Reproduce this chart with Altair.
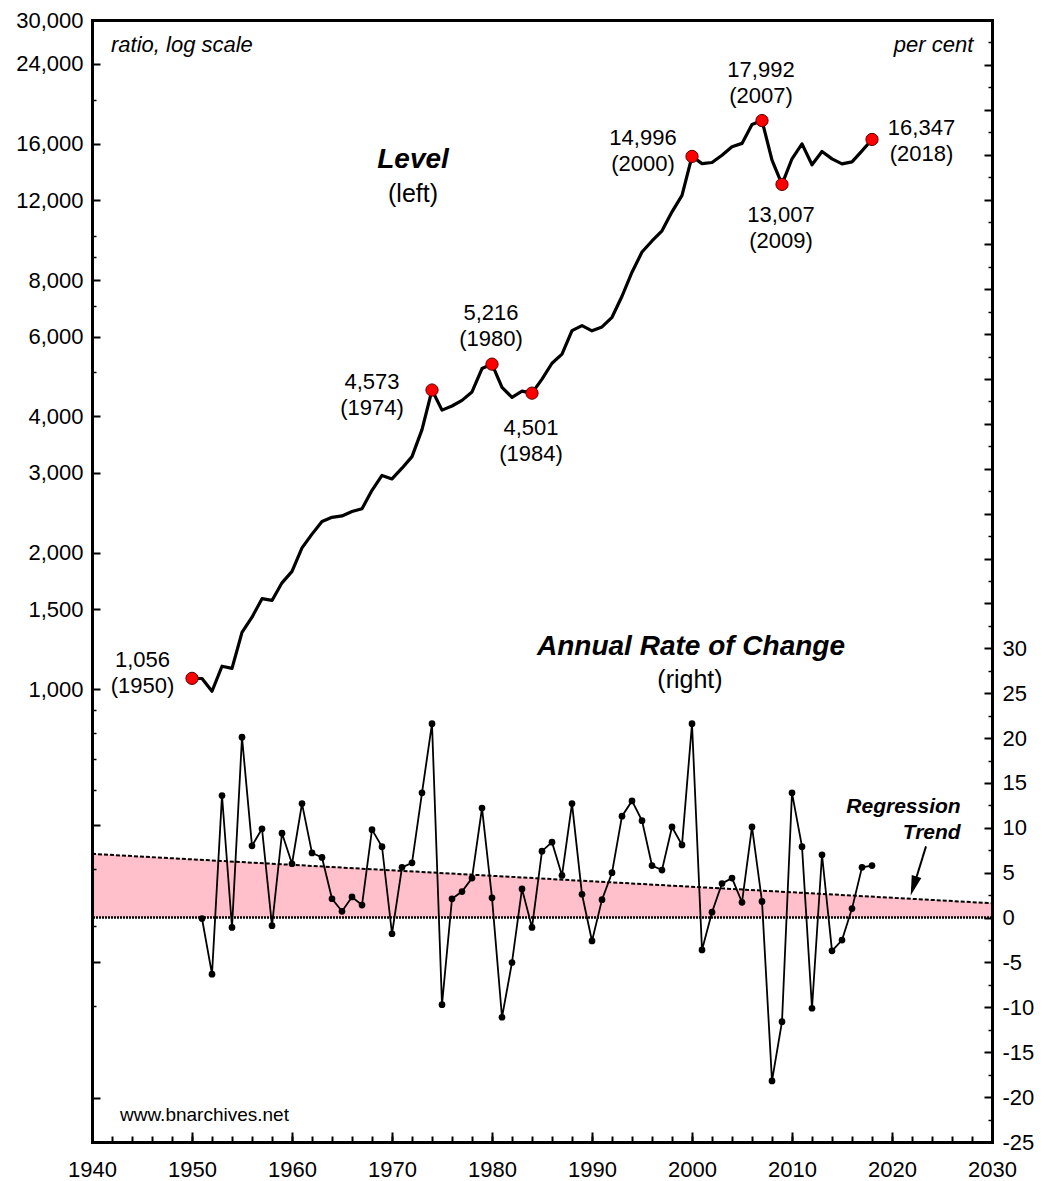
import altair as alt
import pandas as pd

FONT = "Liberation Sans"

# ---------------- data ----------------
years = list(range(1950, 2019))
level = [1056, 1055, 989, 1123, 1111, 1334, 1441, 1583, 1569, 1716,
         1819, 2050, 2198, 2345, 2394, 2411, 2466, 2501, 2746, 2963,
         2910, 3073, 3260, 3740, 4573, 4129, 4216, 4338, 4529, 5100,
         5216, 4637, 4405, 4546, 4501, 4834, 5240, 5487, 6183, 6344,
         6179, 6303, 6618, 7366, 8323, 9222, 9757, 10274, 11312, 12300,
         14996, 14456, 14537, 15090, 15754, 16022, 17640, 17992, 14717, 13007,
         14815, 15985, 14370, 15376, 14807, 14437, 14581, 15420, 16347]

rate_years = list(range(1951, 2019))
rate = [-0.1, -6.3, 13.6, -1.1, 20.1, 8.0, 9.9, -0.9, 9.4,
        6.0, 12.7, 7.2, 6.7, 2.1, 0.7, 2.3, 1.4, 9.8, 7.9,
        -1.8, 5.6, 6.1, 13.9, 21.6, -9.7, 2.1, 2.9, 4.4, 12.2,
        2.2, -11.1, -5.0, 3.2, -1.1, 7.4, 8.4, 4.7, 12.7, 2.6,
        -2.6, 2.0, 5.0, 11.3, 13.0, 10.8, 5.8, 5.3, 10.1, 8.1,
        21.6, -3.6, 0.6, 3.8, 4.4, 1.7, 10.1, 1.8, -18.2, -11.6,
        13.9, 7.9, -10.1, 7.0, -3.7, -2.5, 1.0, 5.6, 5.8]

trend_years = [1940, 2030]
trend_vals = [7.1, 1.6]
trend_base = [0, 0]

hl_years = [1950, 1974, 1980, 1984, 2000, 2007, 2009, 2018]
hl_values = [1056, 4573, 5216, 4501, 14996, 17992, 13007, 16347]
hl_label_x = [1945.05, 1968.0, 1979.9, 1983.9, 1995.1, 2006.9, 2008.9, 2022.95]
hl_label_y = [1158, 4752, 6778, 3762, 16480, 23271, 11147, 17338]

# tick values
x_major = list(range(1940, 2031, 10))
x_minor = list(range(1940, 2031, 2))
left_labels = [1000, 1500, 2000, 3000, 4000, 6000, 8000, 12000, 16000, 24000, 30000]
left_major = [125, 250, 500] + left_labels
left_minor = [200, 300, 400, 600, 700, 800, 900, 5000, 7000, 9000, 10000, 20000]
right_labels = list(range(-25, 31, 5))
right_major = list(range(-25, 101, 5))
right_minor = [v + 2.5 for v in range(-25, 100, 5)]

# annotation anchors (year, per cent)
title_text = ["Level", "Annual Rate of Change"]
title_x = [1972.1, 1999.9]
title_y = [84.4, 30.1]
sub_text = ["(left)", "(right)"]
sub_x = [1972.1, 1999.8]
sub_y = [80.67, 26.5]
reg_text = ["Regression", "Trend"]
reg_x = [2026.87, 2026.87]
reg_y = [12.27, 9.45]
arrow_x = [2023.4, 2022.17]
arrow_y = [7.93, 3.5]
head_x = [2021.87]
head_y = [2.45]

# ---------------- scales / axes ----------------
XS = alt.Scale(domain=[1940, 2030], nice=False, zero=False)
LOGS = alt.Scale(type="log", domain=[100, 30000], nice=False)
LINS = alt.Scale(domain=[-25, 100], nice=False, zero=False)

base_ax = dict(title=None, grid=False, zindex=2, labelOverlap=False)

ax_x_lab = alt.Axis(orient="bottom", values=x_major, domain=True, domainWidth=3,
                    domainColor="black", domainCap="square", ticks=False,
                    labels=True, labelFontSize=22, labelPadding=17, labelFlush=False,
                    labelFont=FONT, labelColor="black", format="d", **base_ax)
ax_x_major = alt.Axis(orient="bottom", values=x_major, domain=False, ticks=True,
                      tickSize=10, tickWidth=2, tickColor="black", labels=False,
                      offset=-10, **base_ax)
ax_x_minor = alt.Axis(orient="bottom", values=x_minor, domain=False, ticks=True,
                      tickSize=6, tickWidth=2, tickColor="black", labels=False,
                      offset=-6, **base_ax)
ax_x_top = alt.Axis(orient="top", domain=True, domainWidth=3, domainColor="black",
                    domainCap="square", ticks=False, labels=False, **base_ax)

ax_l_lab = alt.Axis(orient="left", values=left_labels, domain=True, domainWidth=3,
                    domainColor="black", domainCap="square", ticks=False,
                    labels=True, labelFontSize=22, labelPadding=9, labelFont=FONT,
                    labelColor="black", format=",", **base_ax)
ax_l_major = alt.Axis(orient="left", values=left_major, domain=False, ticks=True,
                      tickSize=8, tickWidth=2, tickColor="black", labels=False,
                      offset=-8, **base_ax)
ax_l_minor = alt.Axis(orient="left", values=left_minor, domain=False, ticks=True,
                      tickSize=4, tickWidth=1.5, tickColor="black", labels=False,
                      offset=-4, **base_ax)

ax_r_lab = alt.Axis(orient="right", values=right_labels, domain=True, domainWidth=3,
                    domainColor="black", domainCap="square", ticks=False,
                    labels=True, labelFontSize=22, labelPadding=10, labelFont=FONT,
                    labelColor="black", labelExpr="datum.value + ''", **base_ax)
ax_r_major = alt.Axis(orient="right", values=right_major, domain=False, ticks=True,
                      tickSize=8, tickWidth=2, tickColor="black", labels=False,
                      offset=-8, **base_ax)
ax_r_minor = alt.Axis(orient="right", values=right_minor, domain=False, ticks=True,
                      tickSize=4, tickWidth=1.5, tickColor="black", labels=False,
                      offset=-4, **base_ax)


def X(field, axis=None):
    return alt.X(field, type="quantitative", scale=XS, axis=axis)


def YL(field, axis=None):
    return alt.Y(field, type="quantitative", scale=LOGS, axis=axis)


def YR(field, axis=None):
    return alt.Y(field, type="quantitative", scale=LINS, axis=axis)


# ---------------- frames ----------------
level_df = pd.DataFrame({"year": years, "level": level})
rate_df = pd.DataFrame({"year": rate_years, "rate": rate})
trend_df = pd.DataFrame({"year": trend_years, "trend": trend_vals, "base": trend_base})
zero_df = pd.DataFrame({"v": [0]})
hl_df = pd.DataFrame({
    "year": hl_years, "value": hl_values, "lx": hl_label_x, "ly": hl_label_y,
    "txt": [f"{v:,}\n({y})" for v, y in zip(hl_values, hl_years)],
})
title_df = pd.DataFrame({"x": title_x, "y": title_y, "t": title_text})
sub_df = pd.DataFrame({"x": sub_x, "y": sub_y, "t": sub_text})
reg_df = pd.DataFrame({"x": reg_x, "y": reg_y, "t": reg_text})
ratio_df = pd.DataFrame({"x": [1941.9], "y": [97.2], "t": ["ratio, log scale"]})
pc_df = pd.DataFrame({"x": [2028.13], "y": [97.2], "t": ["per cent"]})
www_df = pd.DataFrame({"x": [1942.8], "y": [-21.95], "t": ["www.bnarchives.net"]})
arrow_df = pd.DataFrame({"x": [arrow_x[0]], "y": [arrow_y[0]],
                         "x2": [arrow_x[1]], "y2": [arrow_y[1]]})
head_df = pd.DataFrame({"x": head_x, "y": head_y})

# ---------------- layers ----------------
area = alt.Chart(trend_df).mark_area(color="#ffc0cb", opacity=1).encode(
    x=X("year", ax_x_lab), y=YR("trend", ax_r_lab), y2="base:Q")

trend_line = alt.Chart(trend_df).mark_line(
    color="black", strokeWidth=2, strokeDash=[4, 2]).encode(
    x=X("year", ax_x_major), y=YR("trend", ax_r_major))

zero_line = alt.Chart(zero_df).mark_rule(
    color="black", strokeWidth=2.5, strokeDash=[2, 1]).encode(
    y=YR("v", ax_r_minor))

level_line = alt.Chart(level_df).mark_line(
    color="black", strokeWidth=3.2, strokeJoin="round").encode(
    x=X("year", ax_x_top), y=YL("level", ax_l_lab))

rate_line = alt.Chart(rate_df).mark_line(
    color="black", strokeWidth=1.8).encode(
    x=X("year", ax_x_minor), y=YR("rate"))

rate_pts = alt.Chart(rate_df).mark_circle(color="black", size=45, opacity=1).encode(
    x=X("year"), y=YR("rate"))

dots = alt.Chart(hl_df).mark_circle(
    color="#ff0000", size=150, opacity=1, stroke="#5a0000", strokeWidth=1).encode(
    x=X("year"), y=YL("value", ax_l_major))

hl_labels = alt.Chart(hl_df).mark_text(
    font=FONT, fontSize=22, lineBreak="\n", lineHeight=26, align="center",
    baseline="middle", color="black").encode(
    x=X("lx"), y=YL("ly", ax_l_minor), text="txt:N")

titles = alt.Chart(title_df).mark_text(
    font=FONT, fontSize=28, fontWeight="bold", fontStyle="italic",
    align="center", baseline="middle", color="black").encode(
    x=X("x"), y=YR("y"), text="t:N")

subs = alt.Chart(sub_df).mark_text(
    font=FONT, fontSize=25, align="center", baseline="middle", color="black").encode(
    x=X("x"), y=YR("y"), text="t:N")

regs = alt.Chart(reg_df).mark_text(
    font=FONT, fontSize=21, fontWeight="bold", fontStyle="italic",
    align="right", baseline="middle", color="black").encode(
    x=X("x"), y=YR("y"), text="t:N")

ratio_t = alt.Chart(ratio_df).mark_text(
    font=FONT, fontSize=22, fontStyle="italic", align="left",
    baseline="middle", color="black").encode(
    x=X("x"), y=YR("y"), text="t:N")

pc_t = alt.Chart(pc_df).mark_text(
    font=FONT, fontSize=22, fontStyle="italic", align="right",
    baseline="middle", color="black").encode(
    x=X("x"), y=YR("y"), text="t:N")

www_t = alt.Chart(www_df).mark_text(
    font=FONT, fontSize=19, align="left", baseline="middle", color="black").encode(
    x=X("x"), y=YR("y"), text="t:N")

arrow = alt.Chart(arrow_df).mark_rule(color="black", strokeWidth=2).encode(
    x=X("x"), y=YR("y"), x2="x2:Q", y2="y2:Q")

head = alt.Chart(head_df).mark_point(
    shape="M0,0L-0.25,-1L0.25,-1Z", size=1600, angle=17, filled=True,
    color="black", opacity=1).encode(x=X("x"), y=YR("y"))

chart = alt.layer(
    area, trend_line, zero_line, level_line, rate_line, rate_pts, dots,
    hl_labels, titles, subs, regs, ratio_t, pc_t, www_t, arrow, head
).resolve_scale(y="independent").resolve_axis(x="independent", y="independent").properties(
    width=900, height=1122,
    autosize=alt.AutoSizeParams(type="none"),
    padding={"left": 84, "top": 12, "right": 44, "bottom": 40},
).configure_view(strokeWidth=0).configure_axis(
    grid=False, labelFont=FONT, labelColor="black", tickColor="black",
    domainColor="black")

chart.save("out.html", embed_options={"renderer": "svg", "actions": False})
